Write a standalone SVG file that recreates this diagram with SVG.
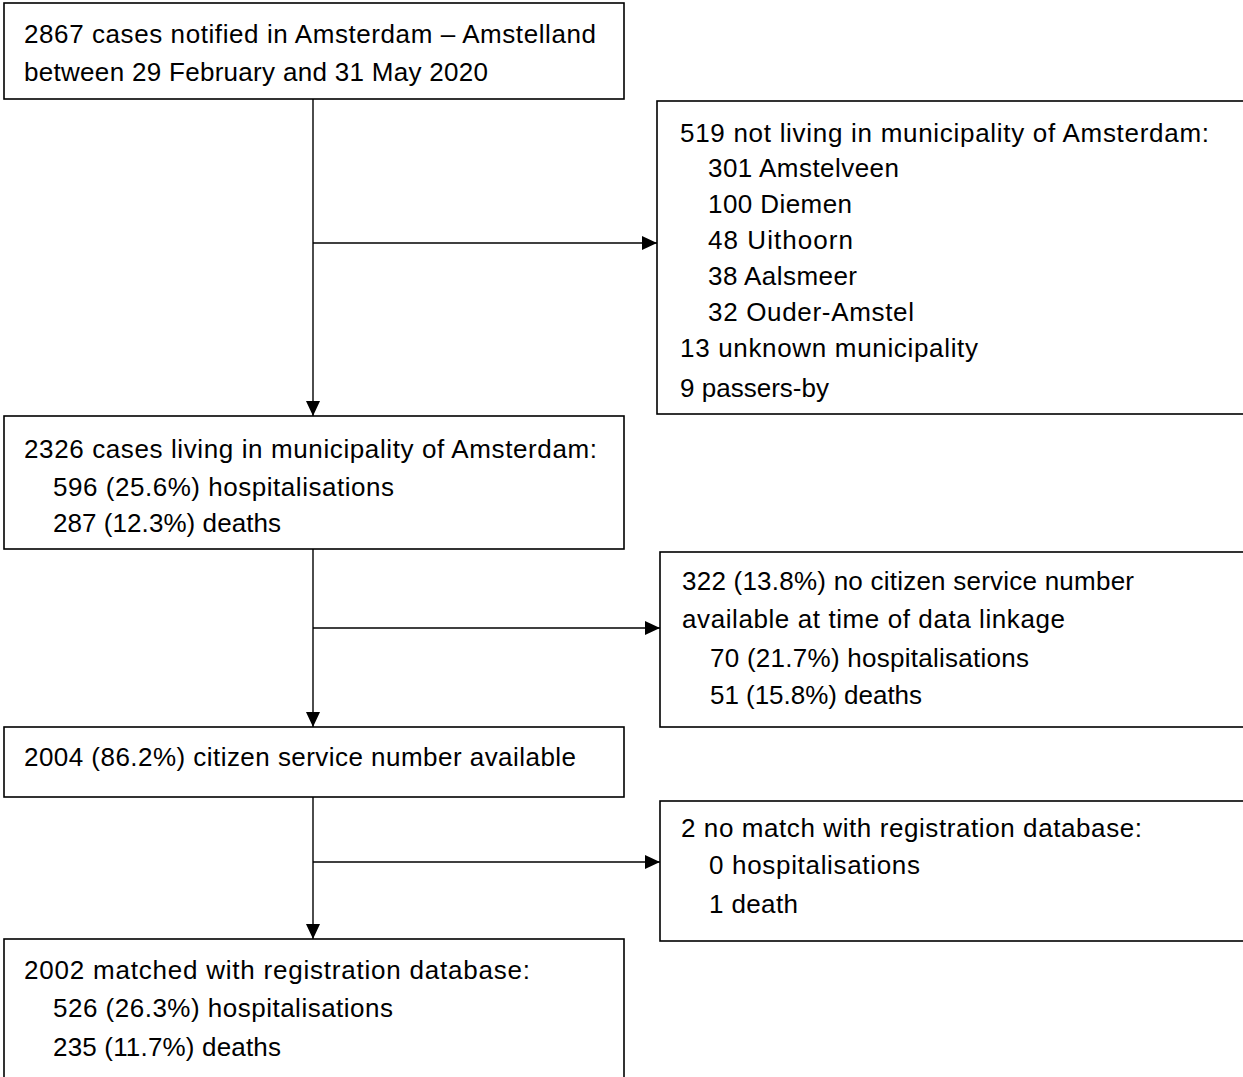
<svg xmlns="http://www.w3.org/2000/svg" width="1243" height="1077" viewBox="0 0 1243 1077">
<style>
.box{fill:#fff;stroke:#000;stroke-width:1.6}
.t{font-family:"Liberation Sans",Arial,sans-serif;font-size:26px;fill:#000}
.c{stroke:#000;stroke-width:1.4;fill:none}
</style>
<defs>
<marker id="ah" markerWidth="15" markerHeight="14" refX="15" refY="7" orient="auto" markerUnits="userSpaceOnUse">
<path d="M0,0 L15,7 L0,14 Z" fill="#000"/>
</marker>
</defs>
<rect width="1243" height="1077" fill="#fff"/>
<g id="connectors">
<path class="c" d="M313,99 V416" marker-end="url(#ah)"/>
<path class="c" d="M313,243 H657" marker-end="url(#ah)"/>
<path class="c" d="M313,549 V727" marker-end="url(#ah)"/>
<path class="c" d="M313,628 H660" marker-end="url(#ah)"/>
<path class="c" d="M313,797 V939" marker-end="url(#ah)"/>
<path class="c" d="M313,862 H660" marker-end="url(#ah)"/>
</g>
<g id="n1">
<rect class="box" x="4" y="3" width="620" height="96"/>
<text class="t" x="24" y="43" textLength="572">2867 cases notified in Amsterdam – Amstelland</text>
<text class="t" x="24" y="81" textLength="464">between 29 February and 31 May 2020</text>
</g>
<g id="n2">
<rect class="box" x="657" y="101" width="590" height="313"/>
<text class="t" x="680" y="142" textLength="529">519 not living in municipality of Amsterdam:</text>
<text class="t" x="708" y="177" textLength="191">301 Amstelveen</text>
<text class="t" x="708" y="213" textLength="144">100 Diemen</text>
<text class="t" x="708" y="249" textLength="145">48 Uithoorn</text>
<text class="t" x="708" y="285" textLength="149">38 Aalsmeer</text>
<text class="t" x="708" y="321" textLength="206">32 Ouder-Amstel</text>
<text class="t" x="680" y="357" textLength="298">13 unknown municipality</text>
<text class="t" x="680" y="397" textLength="149">9 passers-by</text>
</g>
<g id="n3">
<rect class="box" x="4" y="416" width="620" height="133"/>
<text class="t" x="24" y="458" textLength="573">2326 cases living in municipality of Amsterdam:</text>
<text class="t" x="53" y="496" textLength="341">596 (25.6%) hospitalisations</text>
<text class="t" x="53" y="532" textLength="228">287 (12.3%) deaths</text>
</g>
<g id="n4">
<rect class="box" x="660" y="552" width="590" height="175"/>
<text class="t" x="682" y="590" textLength="452">322 (13.8%) no citizen service number</text>
<text class="t" x="682" y="628" textLength="383">available at time of data linkage</text>
<text class="t" x="710" y="667" textLength="319">70 (21.7%) hospitalisations</text>
<text class="t" x="710" y="704" textLength="212">51 (15.8%) deaths</text>
</g>
<g id="n5">
<rect class="box" x="4" y="727" width="620" height="70"/>
<text class="t" x="24" y="766" textLength="552">2004 (86.2%) citizen service number available</text>
</g>
<g id="n6">
<rect class="box" x="660" y="801" width="590" height="140"/>
<text class="t" x="681" y="837" textLength="461">2 no match with registration database:</text>
<text class="t" x="709" y="874" textLength="211">0 hospitalisations</text>
<text class="t" x="709" y="913" textLength="89">1 death</text>
</g>
<g id="n7">
<rect class="box" x="4" y="939" width="620" height="150"/>
<text class="t" x="24" y="979" textLength="506">2002 matched with registration database:</text>
<text class="t" x="53" y="1017" textLength="340">526 (26.3%) hospitalisations</text>
<text class="t" x="53" y="1056" textLength="228">235 (11.7%) deaths</text>
</g>
</svg>
